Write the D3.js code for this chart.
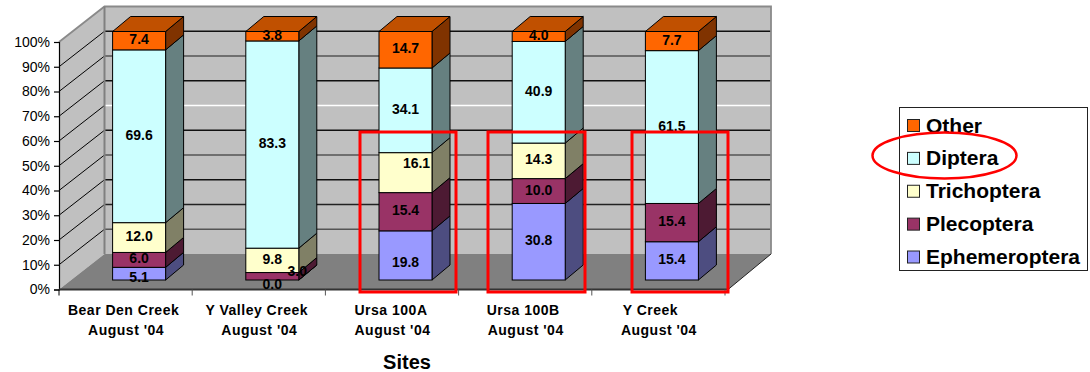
<!DOCTYPE html>
<html>
<head>
<meta charset="utf-8">
<script src="https://d3js.org/d3.v7.min.js"></script>
<style>
  html, body { margin: 0; padding: 0; background: #fff; }
  svg { display: block; }
  text { font-family: "Liberation Sans", Arial, sans-serif; fill: #000; }
</style>
</head>
<body>
<svg id="chart" width="1090" height="372"></svg>
<script>
// Benthic composition per site, bottom of the stack first.
const categories = ["Bear Den Creek", "Y Valley Creek", "Ursa 100A", "Ursa 100B", "Y Creek"];
const subtitle = "August '04";
const seriesNames = ["Ephemeroptera", "Plecoptera", "Trichoptera", "Diptera", "Other"];
const ephemeroptera = [5.1, 0.0, 19.8, 30.8, 15.4];
const plecoptera = [6.0, 3.0, 15.4, 10.0, 15.4];
const trichoptera = [12.0, 9.8, 16.1, 14.3, null];
const diptera = [69.6, 83.3, 34.1, 40.9, 61.5];
const other = [7.4, 3.8, 14.7, 4.0, 7.7];
const seriesValues = [ephemeroptera, plecoptera, trichoptera, diptera, other];
const percentTicks = [0, 10, 20, 30, 40, 50, 60, 70, 80, 90, 100];

const faceColors = ["#9999FF", "#993366", "#FFFFCC", "#CCFFFF", "#FF6600"];
const sideColors = ["#4D4D80", "#4D1A33", "#808066", "#668080", "#803300"];
const topColor = "#C05000";

// Chart box in oblique projection.
const frontLeft = 59, frontRight = 725;
const wallDx = 45.5, wallDy = -35.5;
const barDx = 18, barDy = -15, barWidth = 53, barShift = 13.5;

const svg = d3.select("#chart");
const y = d3.scaleLinear().domain([0, 100]).range([289.5, 42]);
const yBar = d3.scaleLinear().domain([0, 100]).range([280, 31.5]);
const x = d3.scaleBand().domain(categories).range([frontLeft, frontRight]);

const pts = a => a.map(p => p.join(",")).join(" ");

// Walls and floor
const backLeft = frontLeft + wallDx, backRight = 771;
svg.append("polygon")
  .attr("points", pts([[frontLeft, y(100)], [backLeft, y(100) + wallDy], [backLeft, y(0) + wallDy], [frontLeft, y(0)]]))
  .attr("fill", "#C0C0C0");
svg.append("rect")
  .attr("x", backLeft).attr("y", y(100) + wallDy)
  .attr("width", backRight - backLeft).attr("height", y(0) - y(100))
  .attr("fill", "#C0C0C0");
svg.append("polygon")
  .attr("points", pts([[frontLeft, y(0)], [backLeft, y(0) + wallDy], [backRight, y(0) + wallDy], [728, y(0)]]))
  .attr("fill", "#808080");

// Gridlines: they run across the side wall and then along the back wall.
const backLineColor = {90: "#111", 80: "#555", 70: "#111", 60: "#fff", 50: "#111", 40: "#555", 30: "#111", 20: "#222", 10: "#555"};
percentTicks.filter(t => t > 0 && t < 100).forEach(t => {
  svg.append("line")
    .attr("x1", frontLeft).attr("y1", y(t))
    .attr("x2", backLeft).attr("y2", y(t) + wallDy)
    .attr("stroke", "#000").attr("stroke-width", 1);
  svg.append("line")
    .attr("x1", backLeft).attr("y1", y(t) + wallDy)
    .attr("x2", backRight).attr("y2", y(t) + wallDy)
    .attr("stroke", backLineColor[t]).attr("stroke-width", 1.3);
});
svg.append("path")
  .attr("d", `M${frontLeft},${y(100)}L${backLeft},${y(100) + wallDy}H${backRight}V${y(0) + wallDy}`)
  .attr("fill", "none").attr("stroke", "#8a8a8a").attr("stroke-width", 1.8);
svg.append("line")
  .attr("x1", backLeft).attr("y1", y(100) + wallDy)
  .attr("x2", backLeft).attr("y2", y(0) + wallDy)
  .attr("stroke", "#808080").attr("stroke-width", 2);
svg.append("line")
  .attr("x1", backRight).attr("y1", y(0) + wallDy)
  .attr("x2", 728).attr("y2", y(0))
  .attr("stroke", "#222").attr("stroke-width", 1);

// Percent axis
const yAxis = svg.append("g").attr("transform", `translate(${frontLeft},0)`)
  .call(d3.axisLeft(y).tickValues(percentTicks).tickFormat(d => d + "%").tickSize(5).tickPadding(4));
yAxis.selectAll("path").attr("stroke", "#000").attr("stroke-width", 1.2);
yAxis.selectAll("line").attr("stroke", "#000").attr("stroke-width", 1.2);
yAxis.selectAll("text")
  .style("font-family", '"Liberation Sans", Arial, sans-serif')
  .style("font-size", "14px").attr("fill", "#222");

// Category axis
const xTicks = categories.map(c => x(c)).concat(frontRight);
svg.append("line")
  .attr("x1", frontLeft).attr("y1", y(0)).attr("x2", 728).attr("y2", y(0))
  .attr("stroke", "#333").attr("stroke-width", 2);
xTicks.forEach((t, i) => {
  svg.append("line")
    .attr("x1", t).attr("y1", y(0)).attr("x2", t).attr("y2", y(0) + 6)
    .attr("stroke", i === 0 ? "#000" : "#555").attr("stroke-width", 1);
});
const firstLineNudge = [-2, -2, -1, -2, -8];
categories.forEach((c, i) => {
  const cx = x(c) + x.bandwidth() / 2;
  [[c, 315, firstLineNudge[i]], [subtitle, 335, 0.5]].forEach(([line, base, dx]) => {
    svg.append("text")
      .attr("x", cx + dx).attr("y", base)
      .attr("text-anchor", "middle")
      .style("font-size", "14px").style("font-weight", "bold")
      .style("letter-spacing", "0.5px").attr("fill", "#222")
      .text(line);
  });
});
svg.append("text")
  .attr("x", 407).attr("y", 369)
  .attr("text-anchor", "middle")
  .style("font-size", "20px").style("font-weight", "bold").attr("fill", "#222")
  .text("Sites");

// Stacked columns, normalised to 100%. Keys are "series-category".
const labelNudge = {"1-1": [25, -3.5], "2-2": [11, -8], "0-2": [0, 8], "0-0": [0, 4.5], "0-1": [0, 5.5]};
categories.forEach((c, ci) => {
  const left = x(c) + x.bandwidth() / 2 + barShift - barWidth / 2;
  const total = d3.sum(seriesValues, s => s[ci]);
  let cum = 0;
  const segs = [];
  seriesValues.forEach((s, si) => {
    const v = s[ci];
    if (v === null) return;
    const lo = cum / total * 100, hi = (cum + v) / total * 100;
    cum += v;
    segs.push({si, v, y0: yBar(lo), y1: yBar(hi)});
  });
  const g = svg.append("g");
  segs.forEach(d => {
    const r = left + barWidth;
    g.append("polygon")
      .attr("points", pts([[r, d.y0], [r + barDx, d.y0 + barDy], [r + barDx, d.y1 + barDy], [r, d.y1]]))
      .attr("fill", sideColors[d.si]).attr("stroke", "#000").attr("stroke-width", 1);
    g.append("rect")
      .attr("x", left).attr("y", d.y1).attr("width", barWidth).attr("height", d.y0 - d.y1)
      .attr("fill", faceColors[d.si]).attr("stroke", "#000").attr("stroke-width", 1);
  });
  const t = yBar(100);
  g.append("polygon")
    .attr("points", pts([[left, t], [left + barDx, t + barDy], [left + barWidth + barDx, t + barDy], [left + barWidth, t]]))
    .attr("fill", topColor).attr("stroke", "#000").attr("stroke-width", 1);
  segs.forEach(d => {
    const n = labelNudge[`${d.si}-${ci}`] || [0, 0];
    g.append("text")
      .attr("x", left + barWidth / 2 + n[0])
      .attr("y", (d.y0 + d.y1) / 2 + 3.5 + n[1])
      .attr("text-anchor", "middle")
      .style("font-size", "14px").style("font-weight", "bold").attr("fill", "#111")
      .text(d.v.toFixed(1));
  });
});

// Legend, top of the stack first
const legend = svg.append("g");
legend.append("rect")
  .attr("x", 899.5).attr("y", 107.5).attr("width", 188).attr("height", 163)
  .attr("fill", "#fff").attr("stroke", "#222").attr("stroke-width", 1);
const legendY = d3.scalePoint().domain(seriesNames.slice().reverse()).range([125.5, 257]);
seriesNames.forEach((n, i) => {
  legend.append("rect")
    .attr("x", 907.5).attr("y", legendY(n) - 6).attr("width", 12).attr("height", 12)
    .attr("fill", faceColors[i]).attr("stroke", "#222").attr("stroke-width", 1);
  legend.append("text")
    .attr("x", 926).attr("y", legendY(n) + 7)
    .style("font-size", "21px").style("font-weight", "bold").attr("fill", "#111")
    .text(n);
});

// Highlights
const highlightBoxes = [[360, 456], [488, 585], [632, 728]];
highlightBoxes.forEach(([a, b]) => {
  svg.append("rect")
    .attr("x", a).attr("y", 132).attr("width", b - a).attr("height", 160)
    .attr("fill", "none").attr("stroke", "#FF0000").attr("stroke-width", 3);
});
svg.append("ellipse")
  .attr("cx", 944.5).attr("cy", 155.5).attr("rx", 72).attr("ry", 23)
  .attr("fill", "none").attr("stroke", "#FF0000").attr("stroke-width", 2.5);
</script>
</body>
</html>
